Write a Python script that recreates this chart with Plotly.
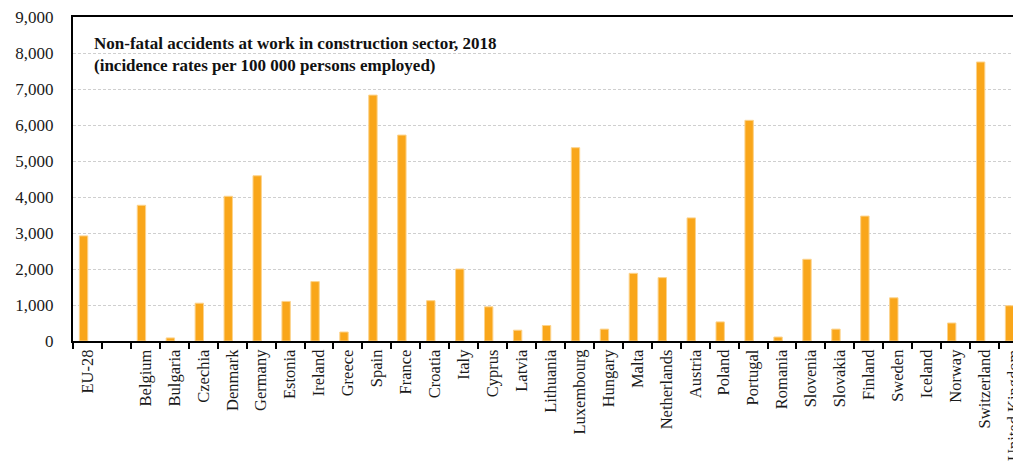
import plotly.graph_objects as go

categories = ["EU-28", " ", "Belgium", "Bulgaria", "Czechia", "Denmark", "Germany", "Estonia",
              "Ireland", "Greece", "Spain", "France", "Croatia", "Italy", "Cyprus", "Latvia",
              "Lithuania", "Luxembourg", "Hungary", "Malta", "Netherlands", "Austria", "Poland",
              "Portugal", "Romania", "Slovenia", "Slovakia", "Finland", "Sweden", "Iceland",
              "Norway", "Switzerland", "United Kingdom"]
values = [2920, None, 3770, 85, 1050, 4020, 4590, 1100,
          1650, 250, 6830, 5720, 1120, 2000, 950, 300,
          430, 5370, 330, 1880, 1760, 3420, 530,
          6130, 110, 2270, 330, 3470, 1200, None,
          500, 7750, 980]
y_ticks = [0, 1000, 2000, 3000, 4000, 5000, 6000, 7000, 8000, 9000]
title_lines = ["Non-fatal accidents at work in construction sector, 2018",
               "(incidence rates per 100 000 persons employed)"]

font_serif = "Liberation Serif, Times New Roman, serif"

fig = go.Figure()
fig.add_trace(go.Bar(
    x=categories, y=values,
    width=0.29, offset=-0.28,
    marker=dict(color="#F9A61A", line=dict(color="#FCD38C", width=1)),
    showlegend=False,
))

fig.update_layout(
    width=1013, height=455,
    margin=dict(l=65, r=0, t=9, b=122),
    paper_bgcolor="white", plot_bgcolor="white",
    font=dict(family=font_serif, size=17, color="#222222"),
)
fig.update_xaxes(
    type="category",
    automargin=False,
    ticklabeloverflow="allow",
    range=[-0.5, 32.26],
    tickangle=-90,
    tickson="boundaries",
    ticks="outside", ticklen=6, tickcolor="black", tickwidth=2,
    showline=True, linecolor="black", linewidth=2, mirror=True,
    showgrid=False,
    tickfont=dict(family=font_serif, size=16.5, color="#1a1a1a"),
)
fig.update_yaxes(
    automargin=False,
    ticklabeloverflow="allow",
    range=[0, 9000],
    tickvals=y_ticks,
    tickformat=",d",
    showline=True, linecolor="black", linewidth=2,
    showgrid=True, gridcolor="#CFCFCF", griddash="3px,2px", gridwidth=1,
    ticks="", ticklabelstandoff=14,
    tickfont=dict(family=font_serif, size=17, color="#1a1a1a"),
    zeroline=False,
)

fig.add_annotation(
    x=0.02, y=0.955, xref="paper", yref="paper",
    xanchor="left", yanchor="top", align="left",
    text="<b>" + title_lines[0] + "<br>" + title_lines[1] + "</b>",
    showarrow=False,
    font=dict(family=font_serif, size=17, color="#111111"),
)

fig.write_html("out.html")
